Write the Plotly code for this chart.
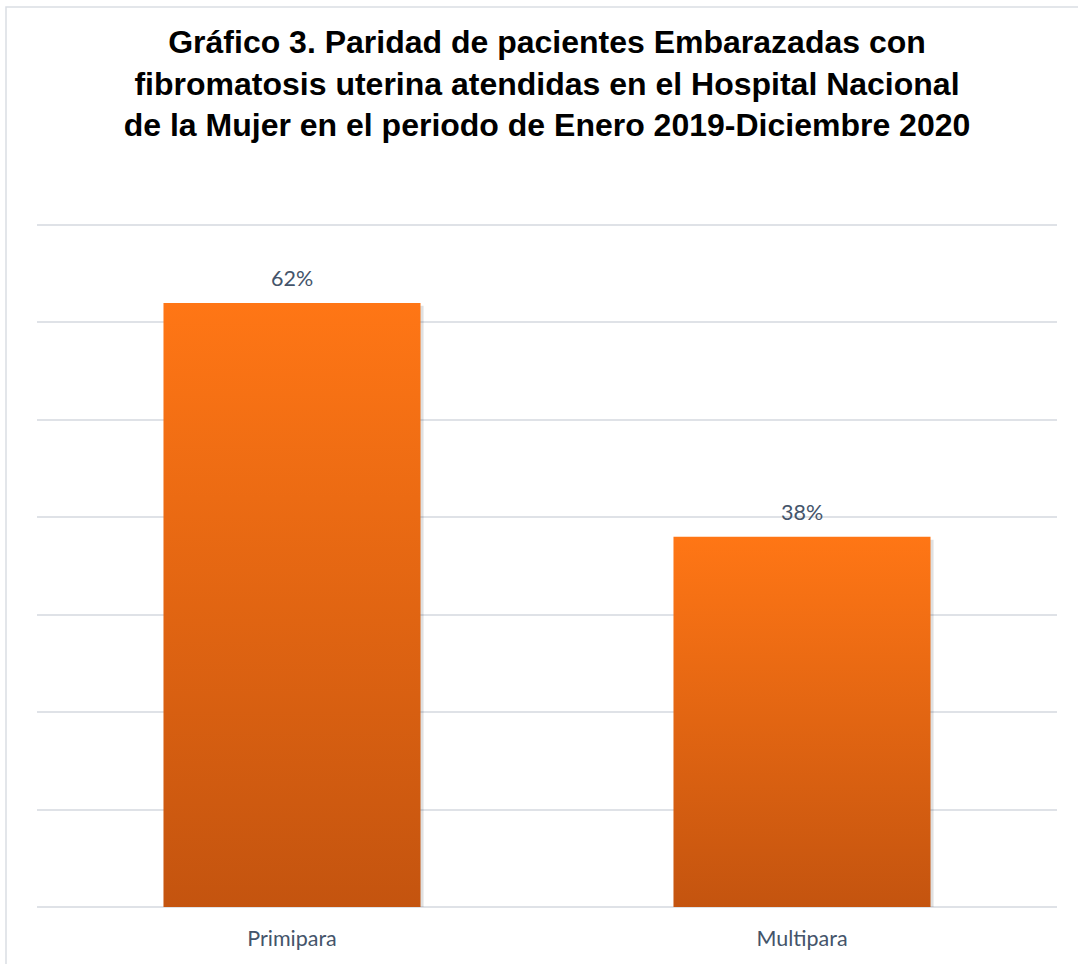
import plotly.graph_objects as go

categories = ["Primipara", "Multipara"]
values = [62, 38]
labels = ["62%", "38%"]

W, H = 1078, 964
ml, mr, mt, mb = 37, 21, 223, 57
half = 0.252

fig = go.Figure()
for i, (c, v) in enumerate(zip(categories, values)):
    xs = [i - half, i + half, i + half, i - half, i - half]
    ys = [0, 0, v, v, 0]
    # soft shadow
    fig.add_trace(go.Scatter(
        x=[x + 0.006 for x in xs], y=[y - 0.35 if y == 0 else y - 0.3 for y in ys],
        fill="toself", mode="lines", line=dict(width=0),
        fillcolor="rgba(0,0,0,0.12)", hoverinfo="skip", showlegend=False))
    fig.add_trace(go.Scatter(
        x=xs, y=ys, fill="toself", mode="lines", line=dict(width=0),
        fillgradient=dict(type="vertical",
                          colorscale=[[0, "#C4540F"], [1, "#FF7615"]]),
        name=c, showlegend=False, hoverinfo="name+y"))
    fig.add_annotation(x=i, y=v, text=labels[i], showarrow=False,
                       yanchor="bottom", yshift=10,
                       font=dict(family="Lato, Open Sans, sans-serif", size=21.5, color="#44546A"))

fig.update_layout(
    width=W, height=H,
    margin=dict(l=ml, r=mr, t=mt, b=mb),
    paper_bgcolor="white", plot_bgcolor="white",
    title=dict(
        text="Gráfico 3. Paridad de pacientes Embarazadas con<br>fibromatosis uterina atendidas en el Hospital Nacional<br>de la Mujer en el periodo de Enero 2019-Diciembre 2020",
        font=dict(family="Liberation Sans, Arial, sans-serif", size=32, color="black", weight="bold"),
        x=0.5, xref="paper", xanchor="center",
        y=1 - 53 / H, yref="container", yanchor="middle"),
    xaxis=dict(range=[-0.5, 1.5], tickvals=[0, 1], ticktext=categories,
               showgrid=False, zeroline=False, showline=False,
               ticks="outside", ticklen=12, tickcolor="rgba(0,0,0,0)",
               tickfont=dict(family="Lato, Open Sans, sans-serif", size=21.5, color="#44546A")),
    yaxis=dict(range=[0, 70.2], tick0=0, dtick=10, showticklabels=False,
               showgrid=True, gridcolor="#DFE2E7", gridwidth=1.5,
               zeroline=True, zerolinecolor="#DFE2E7", zerolinewidth=1.5,
               showline=False),
)

pw = W - ml - mr
ph = H - mt - mb
fig.add_shape(type="rect", xref="paper", yref="paper",
              x0=(6 - ml) / pw, x1=(W + 20 - ml) / pw,
              y0=(H - mb - (H + 20)) / ph, y1=(H - mb - 7) / ph,
              line=dict(color="#DADEE4", width=1.5), layer="below")

fig.write_html(
    "out.html",
    config={"displayModeBar": False},
    post_script="document.body.style.margin='0';document.body.style.overflow='hidden';",
)
